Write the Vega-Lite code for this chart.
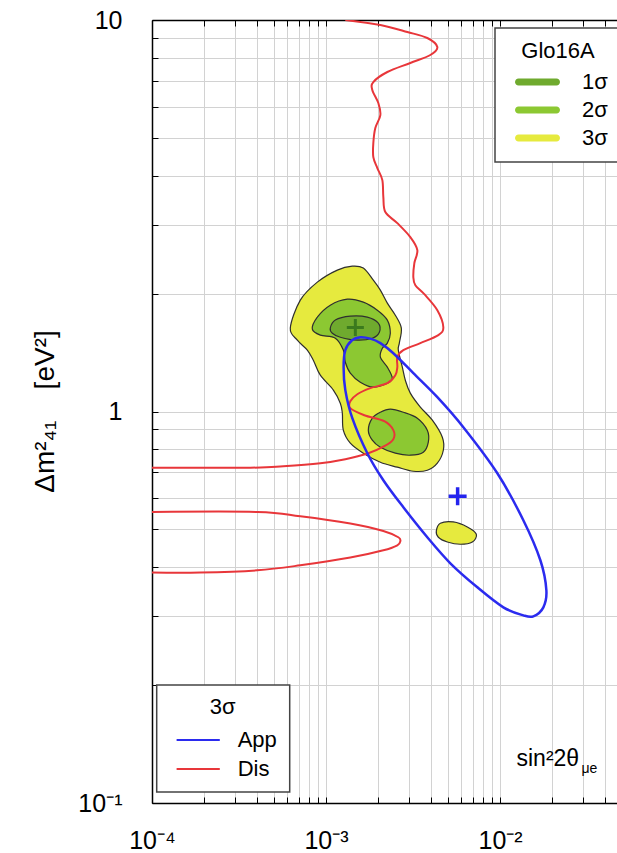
{
  "$schema": "https://vega.github.io/schema/vega-lite/v6.json",
  "width": 465,
  "height": 783,
  "autosize": {"type": "none"},
  "padding": {"left": 152, "top": 20, "right": 0, "bottom": 50},
  "background": "white",
  "config": {
    "view": {"stroke": null},
    "font": "Liberation Sans",
    "legend": {"strokeWidth": 1.5}
  },
  "datasets": {
    "regions": [
      {"region": "3σ-a", "level": "3σ", "i": 1, "x": 0.0006233, "y": 1.633},
      {"region": "3σ-a", "level": "3σ", "i": 2, "x": 0.0007116, "y": 1.925},
      {"region": "3σ-a", "level": "3σ", "i": 3, "x": 0.0008913, "y": 2.14},
      {"region": "3σ-a", "level": "3σ", "i": 4, "x": 0.001161, "y": 2.297},
      {"region": "3σ-a", "level": "3σ", "i": 5, "x": 0.001416, "y": 2.351},
      {"region": "3σ-a", "level": "3σ", "i": 6, "x": 0.001638, "y": 2.324},
      {"region": "3σ-a", "level": "3σ", "i": 7, "x": 0.00187, "y": 2.165},
      {"region": "3σ-a", "level": "3σ", "i": 8, "x": 0.002052, "y": 2.042},
      {"region": "3σ-a", "level": "3σ", "i": 9, "x": 0.002251, "y": 1.891},
      {"region": "3σ-a", "level": "3σ", "i": 10, "x": 0.002502, "y": 1.762},
      {"region": "3σ-a", "level": "3σ", "i": 11, "x": 0.002709, "y": 1.633},
      {"region": "3σ-a", "level": "3σ", "i": 12, "x": 0.002638, "y": 1.495},
      {"region": "3σ-a", "level": "3σ", "i": 13, "x": 0.002603, "y": 1.435},
      {"region": "3σ-a", "level": "3σ", "i": 14, "x": 0.002745, "y": 1.298},
      {"region": "3σ-a", "level": "3σ", "i": 15, "x": 0.002856, "y": 1.202},
      {"region": "3σ-a", "level": "3σ", "i": 16, "x": 0.003051, "y": 1.114},
      {"region": "3σ-a", "level": "3σ", "i": 17, "x": 0.003483, "y": 1.026},
      {"region": "3σ-a", "level": "3σ", "i": 18, "x": 0.004083, "y": 0.9501},
      {"region": "3σ-a", "level": "3σ", "i": 19, "x": 0.00466, "y": 0.8597},
      {"region": "3σ-a", "level": "3σ", "i": 20, "x": 0.004722, "y": 0.7962},
      {"region": "3σ-a", "level": "3σ", "i": 21, "x": 0.004362, "y": 0.7379},
      {"region": "3σ-a", "level": "3σ", "i": 22, "x": 0.00382, "y": 0.7079},
      {"region": "3σ-a", "level": "3σ", "i": 23, "x": 0.003175, "y": 0.7037},
      {"region": "3σ-a", "level": "3σ", "i": 24, "x": 0.002569, "y": 0.7207},
      {"region": "3σ-a", "level": "3σ", "i": 25, "x": 0.002052, "y": 0.7422},
      {"region": "3σ-a", "level": "3σ", "i": 26, "x": 0.001638, "y": 0.7825},
      {"region": "3σ-a", "level": "3σ", "i": 27, "x": 0.001379, "y": 0.8298},
      {"region": "3σ-a", "level": "3σ", "i": 28, "x": 0.001257, "y": 0.896},
      {"region": "3σ-a", "level": "3σ", "i": 29, "x": 0.001241, "y": 0.9901},
      {"region": "3σ-a", "level": "3σ", "i": 30, "x": 0.001208, "y": 1.05},
      {"region": "3σ-a", "level": "3σ", "i": 31, "x": 0.001102, "y": 1.134},
      {"region": "3σ-a", "level": "3σ", "i": 32, "x": 0.0009273, "y": 1.238},
      {"region": "3σ-a", "level": "3σ", "i": 33, "x": 0.0008453, "y": 1.352},
      {"region": "3σ-a", "level": "3σ", "i": 34, "x": 0.0007807, "y": 1.435},
      {"region": "3σ-a", "level": "3σ", "i": 35, "x": 0.0006842, "y": 1.521},
      {"region": "3σ-b", "level": "3σ", "i": 1, "x": 0.004304, "y": 0.4954},
      {"region": "3σ-b", "level": "3σ", "i": 2, "x": 0.004539, "y": 0.5183},
      {"region": "3σ-b", "level": "3σ", "i": 3, "x": 0.00539, "y": 0.5223},
      {"region": "3σ-b", "level": "3σ", "i": 4, "x": 0.006487, "y": 0.5072},
      {"region": "3σ-b", "level": "3σ", "i": 5, "x": 0.007308, "y": 0.4858},
      {"region": "3σ-b", "level": "3σ", "i": 6, "x": 0.00693, "y": 0.4642},
      {"region": "3σ-b", "level": "3σ", "i": 7, "x": 0.005913, "y": 0.458},
      {"region": "3σ-b", "level": "3σ", "i": 8, "x": 0.00498, "y": 0.4642},
      {"region": "3σ-b", "level": "3σ", "i": 9, "x": 0.00442, "y": 0.4773},
      {"region": "2σ-a", "level": "2σ", "i": 1, "x": 0.0008341, "y": 1.623},
      {"region": "2σ-a", "level": "2σ", "i": 2, "x": 0.0008913, "y": 1.742},
      {"region": "2σ-a", "level": "2σ", "i": 3, "x": 0.001058, "y": 1.869},
      {"region": "2σ-a", "level": "2σ", "i": 4, "x": 0.001326, "y": 1.936},
      {"region": "2σ-a", "level": "2σ", "i": 5, "x": 0.001638, "y": 1.903},
      {"region": "2σ-a", "level": "2σ", "i": 6, "x": 0.001972, "y": 1.815},
      {"region": "2σ-a", "level": "2σ", "i": 7, "x": 0.002251, "y": 1.712},
      {"region": "2σ-a", "level": "2σ", "i": 8, "x": 0.002342, "y": 1.585},
      {"region": "2σ-a", "level": "2σ", "i": 9, "x": 0.002251, "y": 1.495},
      {"region": "2σ-a", "level": "2σ", "i": 10, "x": 0.002107, "y": 1.451},
      {"region": "2σ-a", "level": "2σ", "i": 11, "x": 0.002052, "y": 1.377},
      {"region": "2σ-a", "level": "2σ", "i": 12, "x": 0.002251, "y": 1.298},
      {"region": "2σ-a", "level": "2σ", "i": 13, "x": 0.002404, "y": 1.216},
      {"region": "2σ-a", "level": "2σ", "i": 14, "x": 0.002251, "y": 1.181},
      {"region": "2σ-a", "level": "2σ", "i": 15, "x": 0.00187, "y": 1.154},
      {"region": "2σ-a", "level": "2σ", "i": 16, "x": 0.001574, "y": 1.188},
      {"region": "2σ-a", "level": "2σ", "i": 17, "x": 0.001379, "y": 1.253},
      {"region": "2σ-a", "level": "2σ", "i": 18, "x": 0.001291, "y": 1.336},
      {"region": "2σ-a", "level": "2σ", "i": 19, "x": 0.001257, "y": 1.435},
      {"region": "2σ-a", "level": "2σ", "i": 20, "x": 0.001131, "y": 1.539},
      {"region": "2σ-a", "level": "2σ", "i": 21, "x": 0.0009273, "y": 1.567},
      {"region": "2σ-b", "level": "2σ", "i": 1, "x": 0.00175, "y": 0.896},
      {"region": "2σ-b", "level": "2σ", "i": 2, "x": 0.001845, "y": 0.9614},
      {"region": "2σ-b", "level": "2σ", "i": 3, "x": 0.002052, "y": 0.9959},
      {"region": "2σ-b", "level": "2σ", "i": 4, "x": 0.002342, "y": 1.014},
      {"region": "2σ-b", "level": "2σ", "i": 5, "x": 0.002782, "y": 0.9959},
      {"region": "2σ-b", "level": "2σ", "i": 6, "x": 0.003348, "y": 0.9614},
      {"region": "2σ-b", "level": "2σ", "i": 7, "x": 0.00382, "y": 0.896},
      {"region": "2σ-b", "level": "2σ", "i": 8, "x": 0.003871, "y": 0.8347},
      {"region": "2σ-b", "level": "2σ", "i": 9, "x": 0.003624, "y": 0.787},
      {"region": "2σ-b", "level": "2σ", "i": 10, "x": 0.003051, "y": 0.7733},
      {"region": "2σ-b", "level": "2σ", "i": 11, "x": 0.002502, "y": 0.7825},
      {"region": "2σ-b", "level": "2σ", "i": 12, "x": 0.002052, "y": 0.8103},
      {"region": "2σ-b", "level": "2σ", "i": 13, "x": 0.001845, "y": 0.8446},
      {"region": "1σ-a", "level": "1σ", "i": 1, "x": 0.001058, "y": 1.633},
      {"region": "1σ-a", "level": "1σ", "i": 2, "x": 0.001131, "y": 1.712},
      {"region": "1σ-a", "level": "1σ", "i": 3, "x": 0.001379, "y": 1.752},
      {"region": "1σ-a", "level": "1σ", "i": 4, "x": 0.001727, "y": 1.742},
      {"region": "1σ-a", "level": "1σ", "i": 5, "x": 0.001998, "y": 1.681},
      {"region": "1σ-a", "level": "1σ", "i": 6, "x": 0.002025, "y": 1.594},
      {"region": "1σ-a", "level": "1σ", "i": 7, "x": 0.001845, "y": 1.539},
      {"region": "1σ-a", "level": "1σ", "i": 8, "x": 0.001513, "y": 1.521},
      {"region": "1σ-a", "level": "1σ", "i": 9, "x": 0.001208, "y": 1.548},
      {"region": "1σ-a", "level": "1σ", "i": 10, "x": 0.001087, "y": 1.585}
    ],
    "contours": [
      {"exp": "Dis", "piece": "Dis-a", "i": 1, "x": 0.001291, "y": 10},
      {"exp": "Dis", "piece": "Dis-a", "i": 2, "x": 0.002052, "y": 9.71},
      {"exp": "Dis", "piece": "Dis-a", "i": 3, "x": 0.002933, "y": 9.32},
      {"exp": "Dis", "piece": "Dis-a", "i": 4, "x": 0.00382, "y": 8.995},
      {"exp": "Dis", "piece": "Dis-a", "i": 5, "x": 0.004362, "y": 8.531},
      {"exp": "Dis", "piece": "Dis-a", "i": 6, "x": 0.003976, "y": 8.14},
      {"exp": "Dis", "piece": "Dis-a", "i": 7, "x": 0.003051, "y": 7.766},
      {"exp": "Dis", "piece": "Dis-a", "i": 8, "x": 0.002251, "y": 7.365},
      {"exp": "Dis", "piece": "Dis-a", "i": 9, "x": 0.00187, "y": 6.943},
      {"exp": "Dis", "piece": "Dis-a", "i": 10, "x": 0.001845, "y": 6.624},
      {"exp": "Dis", "piece": "Dis-a", "i": 11, "x": 0.001998, "y": 6.137},
      {"exp": "Dis", "piece": "Dis-a", "i": 12, "x": 0.002052, "y": 5.718},
      {"exp": "Dis", "piece": "Dis-a", "i": 13, "x": 0.00192, "y": 5.297},
      {"exp": "Dis", "piece": "Dis-a", "i": 14, "x": 0.00187, "y": 4.85},
      {"exp": "Dis", "piece": "Dis-a", "i": 15, "x": 0.00187, "y": 4.466},
      {"exp": "Dis", "piece": "Dis-a", "i": 16, "x": 0.001972, "y": 4.185},
      {"exp": "Dis", "piece": "Dis-a", "i": 17, "x": 0.002107, "y": 3.9},
      {"exp": "Dis", "piece": "Dis-a", "i": 18, "x": 0.002135, "y": 3.529},
      {"exp": "Dis", "piece": "Dis-a", "i": 19, "x": 0.002192, "y": 3.231},
      {"exp": "Dis", "piece": "Dis-a", "i": 20, "x": 0.002569, "y": 3.028},
      {"exp": "Dis", "piece": "Dis-a", "i": 21, "x": 0.003051, "y": 2.789},
      {"exp": "Dis", "piece": "Dis-a", "i": 22, "x": 0.003348, "y": 2.584},
      {"exp": "Dis", "piece": "Dis-a", "i": 23, "x": 0.003218, "y": 2.393},
      {"exp": "Dis", "piece": "Dis-a", "i": 24, "x": 0.003175, "y": 2.204},
      {"exp": "Dis", "piece": "Dis-a", "i": 25, "x": 0.003261, "y": 2.102},
      {"exp": "Dis", "piece": "Dis-a", "i": 26, "x": 0.003672, "y": 1.994},
      {"exp": "Dis", "piece": "Dis-a", "i": 27, "x": 0.004362, "y": 1.815},
      {"exp": "Dis", "piece": "Dis-a", "i": 28, "x": 0.004722, "y": 1.642},
      {"exp": "Dis", "piece": "Dis-a", "i": 29, "x": 0.00442, "y": 1.567},
      {"exp": "Dis", "piece": "Dis-a", "i": 30, "x": 0.003483, "y": 1.495},
      {"exp": "Dis", "piece": "Dis-a", "i": 31, "x": 0.002782, "y": 1.435},
      {"exp": "Dis", "piece": "Dis-a", "i": 32, "x": 0.002569, "y": 1.377},
      {"exp": "Dis", "piece": "Dis-a", "i": 33, "x": 0.002569, "y": 1.298},
      {"exp": "Dis", "piece": "Dis-a", "i": 34, "x": 0.002502, "y": 1.238},
      {"exp": "Dis", "piece": "Dis-a", "i": 35, "x": 0.002251, "y": 1.181},
      {"exp": "Dis", "piece": "Dis-a", "i": 36, "x": 0.001797, "y": 1.147},
      {"exp": "Dis", "piece": "Dis-a", "i": 37, "x": 0.001513, "y": 1.107},
      {"exp": "Dis", "piece": "Dis-a", "i": 38, "x": 0.001379, "y": 1.062},
      {"exp": "Dis", "piece": "Dis-a", "i": 39, "x": 0.001379, "y": 1.02},
      {"exp": "Dis", "piece": "Dis-a", "i": 40, "x": 0.00166, "y": 0.9785},
      {"exp": "Dis", "piece": "Dis-a", "i": 41, "x": 0.002163, "y": 0.9445},
      {"exp": "Dis", "piece": "Dis-a", "i": 42, "x": 0.002437, "y": 0.896},
      {"exp": "Dis", "piece": "Dis-a", "i": 43, "x": 0.002437, "y": 0.8496},
      {"exp": "Dis", "piece": "Dis-a", "i": 44, "x": 0.002163, "y": 0.8154},
      {"exp": "Dis", "piece": "Dis-a", "i": 45, "x": 0.00175, "y": 0.7825},
      {"exp": "Dis", "piece": "Dis-a", "i": 46, "x": 0.001291, "y": 0.7555},
      {"exp": "Dis", "piece": "Dis-a", "i": 47, "x": 0.0009273, "y": 0.7379},
      {"exp": "Dis", "piece": "Dis-a", "i": 48, "x": 0.0005683, "y": 0.7248},
      {"exp": "Dis", "piece": "Dis-a", "i": 49, "x": 0.0003671, "y": 0.7185},
      {"exp": "Dis", "piece": "Dis-a", "i": 50, "x": 0.0001, "y": 0.7185},
      {"exp": "Dis", "piece": "Dis-b", "i": 1, "x": 0.0001, "y": 0.5538},
      {"exp": "Dis", "piece": "Dis-b", "i": 2, "x": 0.0004029, "y": 0.5538},
      {"exp": "Dis", "piece": "Dis-b", "i": 3, "x": 0.0007116, "y": 0.54},
      {"exp": "Dis", "piece": "Dis-b", "i": 4, "x": 0.001379, "y": 0.5174},
      {"exp": "Dis", "piece": "Dis-b", "i": 5, "x": 0.002135, "y": 0.4954},
      {"exp": "Dis", "piece": "Dis-b", "i": 6, "x": 0.002603, "y": 0.4773},
      {"exp": "Dis", "piece": "Dis-b", "i": 7, "x": 0.002673, "y": 0.4661},
      {"exp": "Dis", "piece": "Dis-b", "i": 8, "x": 0.002569, "y": 0.4553},
      {"exp": "Dis", "piece": "Dis-b", "i": 9, "x": 0.002135, "y": 0.4421},
      {"exp": "Dis", "piece": "Dis-b", "i": 10, "x": 0.001379, "y": 0.4235},
      {"exp": "Dis", "piece": "Dis-b", "i": 11, "x": 0.0007116, "y": 0.4047},
      {"exp": "Dis", "piece": "Dis-b", "i": 12, "x": 0.0004029, "y": 0.393},
      {"exp": "Dis", "piece": "Dis-b", "i": 13, "x": 0.0001895, "y": 0.3878},
      {"exp": "Dis", "piece": "Dis-b", "i": 14, "x": 0.0001, "y": 0.3878},
      {"exp": "App", "piece": "App", "i": 1, "x": 0.001574, "y": 1.548},
      {"exp": "App", "piece": "App", "i": 2, "x": 0.001797, "y": 1.535},
      {"exp": "App", "piece": "App", "i": 3, "x": 0.002052, "y": 1.495},
      {"exp": "App", "piece": "App", "i": 4, "x": 0.002437, "y": 1.409},
      {"exp": "App", "piece": "App", "i": 5, "x": 0.003175, "y": 1.253},
      {"exp": "App", "piece": "App", "i": 6, "x": 0.004362, "y": 1.088},
      {"exp": "App", "piece": "App", "i": 7, "x": 0.006153, "y": 0.9118},
      {"exp": "App", "piece": "App", "i": 8, "x": 0.00965, "y": 0.6955},
      {"exp": "App", "piece": "App", "i": 9, "x": 0.01361, "y": 0.5276},
      {"exp": "App", "piece": "App", "i": 10, "x": 0.01705, "y": 0.4169},
      {"exp": "App", "piece": "App", "i": 11, "x": 0.01846, "y": 0.3494},
      {"exp": "App", "piece": "App", "i": 12, "x": 0.01774, "y": 0.3161},
      {"exp": "App", "piece": "App", "i": 13, "x": 0.01554, "y": 0.2998},
      {"exp": "App", "piece": "App", "i": 14, "x": 0.01361, "y": 0.3015},
      {"exp": "App", "piece": "App", "i": 15, "x": 0.01045, "y": 0.3161},
      {"exp": "App", "piece": "App", "i": 16, "x": 0.007405, "y": 0.3556},
      {"exp": "App", "piece": "App", "i": 17, "x": 0.005181, "y": 0.4096},
      {"exp": "App", "piece": "App", "i": 18, "x": 0.00382, "y": 0.4773},
      {"exp": "App", "piece": "App", "i": 19, "x": 0.002782, "y": 0.5694},
      {"exp": "App", "piece": "App", "i": 20, "x": 0.002135, "y": 0.6675},
      {"exp": "App", "piece": "App", "i": 21, "x": 0.001727, "y": 0.7825},
      {"exp": "App", "piece": "App", "i": 22, "x": 0.001416, "y": 0.9614},
      {"exp": "App", "piece": "App", "i": 23, "x": 0.001291, "y": 1.134},
      {"exp": "App", "piece": "App", "i": 24, "x": 0.001262, "y": 1.298},
      {"exp": "App", "piece": "App", "i": 25, "x": 0.001291, "y": 1.435},
      {"exp": "App", "piece": "App", "i": 26, "x": 0.001411, "y": 1.521}
    ],
    "bestfit": [
      {"fit": "Glo16A", "x": 0.001474, "y": 1.639},
      {"fit": "App", "x": 0.005705, "y": 0.6075}
    ]
  },
  "layer": [
    {
      "encoding": {
        "x": {
          "field": "x", "type": "quantitative",
          "scale": {"type": "log", "domain": [0.0001, 0.047], "nice": false},
          "axis": {
            "orient": "bottom",
            "values": [0.0001, 0.0002, 0.0003, 0.0004, 0.0005, 0.0006, 0.0007, 0.0008, 0.0009, 0.001, 0.002, 0.003, 0.004, 0.005, 0.006, 0.007, 0.008, 0.009, 0.01, 0.02, 0.03, 0.04],
            "labelExpr": "datum.value == 0.0001 ? '10⁻⁴' : datum.value == 0.001 ? '10⁻³' : datum.value == 0.01 ? '10⁻²' : ''",
            "labelFlush": false, "labelOverlap": false,
            "labelFontSize": 25, "labelColor": "#000", "labelPadding": 31,
            "tickSize": -6, "tickColor": "#000", "tickWidth": 1,
            "domainColor": "#000", "domainWidth": 1.5,
            "grid": true, "gridColor": "#d2d2d2", "gridWidth": 1,
            "title": "sin²2θ", "titleX": 364, "titleY": -38,
            "titleAlign": "left", "titleBaseline": "alphabetic",
            "titleFontSize": 23, "titleFontWeight": "normal", "titleColor": "#000"
          }
        },
        "y": {
          "field": "y", "type": "quantitative",
          "scale": {"type": "log", "domain": [0.1, 10], "nice": false},
          "axis": {
            "orient": "left",
            "values": [0.1, 0.2, 0.3, 0.4, 0.5, 0.6, 0.7, 0.8, 0.9, 1, 2, 3, 4, 5, 6, 7, 8, 9, 10],
            "labelExpr": "datum.value == 10 ? '10' : datum.value == 1 ? '1' : datum.value == 0.1 ? '10⁻¹' : ''",
            "labelFlush": false, "labelOverlap": false,
            "labelFontSize": 25, "labelColor": "#000", "labelPadding": 36,
            "tickSize": -6, "tickColor": "#000", "tickWidth": 1,
            "domainColor": "#000", "domainWidth": 1.5,
            "grid": true, "gridColor": "#d2d2d2", "gridWidth": 1,
            "title": "Δm²₄₁\u00a0\u00a0\u00a0\u00a0[eV²]", "titleX": -107, "titleY": 391, "titleAngle": 270,
            "titleAlign": "center", "titleBaseline": "middle",
            "titleFontSize": 28, "titleFontWeight": "normal", "titleColor": "#000"
          }
        }
      },
      "layer": [
        {
          "data": {"name": "regions"},
          "transform": [{"filter": "datum.level === '3σ'"}],
          "mark": {"type": "line", "interpolate": "cardinal-closed", "stroke": "#2f2f2f", "strokeWidth": 1.2, "clip": true},
          "encoding": {
            "detail": {"field": "region", "type": "nominal"},
            "order": {"field": "i", "type": "quantitative"},
            "fill": {
              "field": "level", "type": "nominal",
              "scale": {"domain": ["1σ", "2σ", "3σ"], "range": ["#6faa2e", "#8cc832", "#e6ea3e"]},
              "legend": {
                "title": "Glo16A", "orient": "none", "legendX": 343, "legendY": 8,
                "padding": 13, "fillColor": "white", "strokeColor": "#444",
                "titleFontSize": 22, "titleFontWeight": "normal", "titleColor": "#000",
                "titleAnchor": "middle", "titleAlign": "center", "titlePadding": 8,
                "labelFontSize": 22, "labelColor": "#000", "labelOffset": 33.5,
                "symbolType": "M-2.11,-0.39H2.11A0.39,0.39 0 0 1 2.11,0.39H-2.11A0.39,0.39 0 0 1 -2.11,-0.39Z",
                "symbolSize": 324, "symbolStrokeWidth": 0,
                "symbolOffset": 18.5, "rowPadding": 6,
                "encode": {"symbols": {"update": {"fill": {"scale": "fill", "field": "value"}, "stroke": {"value": "transparent"}, "opacity": {"value": 1}}}}
              }
            }
          }
        },
        {
          "data": {"name": "regions"},
          "transform": [{"filter": "datum.level === '2σ'"}],
          "mark": {"type": "line", "interpolate": "cardinal-closed", "stroke": "#2f2f2f", "strokeWidth": 1.2, "clip": true},
          "encoding": {
            "detail": {"field": "region", "type": "nominal"},
            "order": {"field": "i", "type": "quantitative"},
            "fill": {"field": "level", "type": "nominal"}
          }
        },
        {
          "data": {"name": "regions"},
          "transform": [{"filter": "datum.level === '1σ'"}],
          "mark": {"type": "line", "interpolate": "cardinal-closed", "stroke": "#2f2f2f", "strokeWidth": 1.2, "clip": true},
          "encoding": {
            "detail": {"field": "region", "type": "nominal"},
            "order": {"field": "i", "type": "quantitative"},
            "fill": {"field": "level", "type": "nominal"}
          }
        },
        {
          "data": {"name": "contours"},
          "transform": [{"filter": "datum.exp === 'Dis'"}],
          "mark": {"type": "line", "interpolate": "cardinal", "strokeWidth": 2, "clip": true},
          "encoding": {
            "detail": {"field": "piece", "type": "nominal"},
            "order": {"field": "i", "type": "quantitative"},
            "stroke": {
              "field": "exp", "type": "nominal",
              "scale": {"domain": ["App", "Dis"], "range": ["#2b2bef", "#e8363a"]},
              "legend": {
                "title": "3σ", "orient": "none", "legendX": 4.7, "legendY": 665,
                "padding": 12, "fillColor": "white", "strokeColor": "#444",
                "titleFontSize": 22, "titleFontWeight": "normal", "titleColor": "#000",
                "titleAnchor": "middle", "titleAlign": "center", "titlePadding": 10,
                "labelFontSize": 22, "labelColor": "#000", "labelOffset": 28.5,
                "symbolType": "M-2.4,0H2.4", "symbolSize": 324, "symbolStrokeWidth": 2,
                "symbolOffset": 18.5, "rowPadding": 7
              }
            }
          }
        },
        {
          "data": {"name": "contours"},
          "transform": [{"filter": "datum.exp === 'App'"}],
          "mark": {"type": "line", "interpolate": "cardinal-closed", "strokeWidth": 2.5, "clip": true},
          "encoding": {
            "order": {"field": "i", "type": "quantitative"},
            "stroke": {"field": "exp", "type": "nominal"}
          }
        }
      ]
    },
    {
      "data": {"name": "bestfit"},
      "encoding": {
        "x": {
          "field": "x", "type": "quantitative",
          "scale": {"type": "log", "domain": [0.0001, 0.047], "nice": false},
          "axis": {
            "orient": "top",
            "values": [0.0001, 0.0002, 0.0003, 0.0004, 0.0005, 0.0006, 0.0007, 0.0008, 0.0009, 0.001, 0.002, 0.003, 0.004, 0.005, 0.006, 0.007, 0.008, 0.009, 0.01, 0.02, 0.03, 0.04],
            "labels": false, "grid": false,
            "tickSize": -6, "tickColor": "#000", "tickWidth": 1,
            "domainColor": "#000", "domainWidth": 1.5,
            "title": "μe", "titleX": 429, "titleY": 752,
            "titleAlign": "left", "titleBaseline": "alphabetic",
            "titleFontSize": 14, "titleFontWeight": "normal", "titleColor": "#000"
          }
        },
        "y": {
          "field": "y", "type": "quantitative",
          "scale": {"type": "log", "domain": [0.1, 10], "nice": false},
          "axis": null
        }
      },
      "layer": [
        {
          "transform": [{"filter": "datum.fit === 'Glo16A'"}],
          "mark": {"type": "point", "shape": "M-1,0H1M0,-1V1", "size": 290, "filled": false, "stroke": "#3b7a1e", "strokeWidth": 3, "opacity": 1}
        },
        {
          "transform": [{"filter": "datum.fit === 'App'"}],
          "mark": {"type": "point", "shape": "M-1,0H1M0,-1V1", "size": 324, "filled": false, "stroke": "#2424ee", "strokeWidth": 3.5, "opacity": 1}
        }
      ]
    }
  ],
  "resolve": {"axis": {"x": "independent", "y": "independent"}}
}
